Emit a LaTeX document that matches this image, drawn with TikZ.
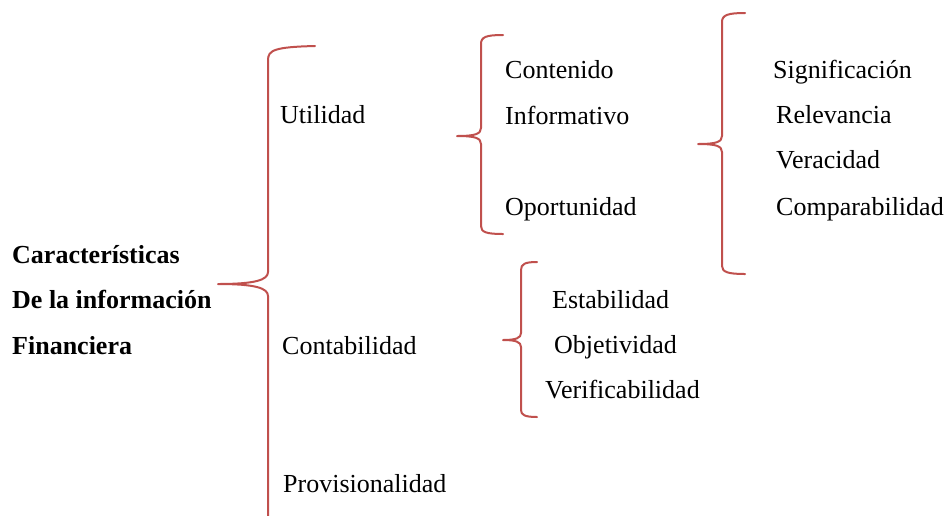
\documentclass[tikz,border=0pt]{standalone}
\usepackage{fontspec}
\setmainfont{Liberation Serif}
\definecolor{bracered}{HTML}{C0504D}
\begin{document}
\begin{tikzpicture}[x=1pt,y=-1pt,
  lbl/.style={anchor=base west,inner sep=0pt,font=\fontsize{26}{31}\selectfont},
  title/.style={lbl,font=\fontsize{26}{31}\selectfont\bfseries},
  bracepath/.style={draw=bracered,line width=2pt,line join=round,line cap=round}]
\useasboundingbox (0,0) rectangle (947,515);

% texts
\node[title] (t1) at (12,263) {Características};
\node[title] (t2) at (12,308) {De la información};
\node[title] (t3) at (12,354) {Financiera};

\node[lbl] (util) at (280,123) {Utilidad};
\node[lbl] (cont) at (282,354) {Contabilidad};
\node[lbl] (prov) at (283,492) {Provisionalidad};

\node[lbl] (ci1) at (505,78) {Contenido};
\node[lbl] (ci2) at (505,124) {Informativo};
\node[lbl] (opo) at (505,215) {Oportunidad};

\node[lbl] (sig) at (773,78) {Significación};
\node[lbl] (rel) at (776,123) {Relevancia};
\node[lbl] (ver) at (776,168) {Veracidad};
\node[lbl] (com) at (776,215) {Comparabilidad};

\node[lbl] (est) at (552,308) {Estabilidad};
\node[lbl] (obj) at (554,353) {Objetividad};
\node[lbl] (vrf) at (545,398) {Verificabilidad};

% brace 1 (main)
\coordinate (b1top) at (315,46);
\coordinate (b1tip) at (218,284);
\coordinate (b1bot) at (268,516);
\path[bracepath] (b1top) .. controls (275,47) and (268,50) .. (268,60)
  -- (268,272) .. controls (268,280) and (255,284) .. (b1tip)
  .. controls (255,284) and (268,288) .. (268,296)
  -- (b1bot);

% brace 2
\coordinate (b2top) at (503,35);
\coordinate (b2tip) at (457,136);
\coordinate (b2bot) at (503,234);
\path[bracepath] (b2top) .. controls (486,35) and (481,37) .. (481,44)
  -- (481,128) .. controls (481,134) and (475,136) .. (b2tip)
  .. controls (475,136) and (481,138) .. (481,144)
  -- (481,226) .. controls (481,232) and (486,234) .. (b2bot);

% brace 3
\coordinate (b3top) at (745,13);
\coordinate (b3tip) at (698,144);
\coordinate (b3bot) at (745,274);
\path[bracepath] (b3top) .. controls (728,13) and (722,15) .. (722,22)
  -- (722,136) .. controls (722,142) and (716,144) .. (b3tip)
  .. controls (716,144) and (722,146) .. (722,152)
  -- (722,266) .. controls (722,272) and (728,274) .. (b3bot);

% brace 4
\coordinate (b4top) at (537,262);
\coordinate (b4tip) at (503,340);
\coordinate (b4bot) at (537,417);
\path[bracepath] (b4top) .. controls (525,262) and (521,264) .. (521,270)
  -- (521,333) .. controls (521,338) and (516,340) .. (b4tip)
  .. controls (516,340) and (521,342) .. (521,347)
  -- (521,410) .. controls (521,415) and (525,417) .. (b4bot);
\end{tikzpicture}
\end{document}
